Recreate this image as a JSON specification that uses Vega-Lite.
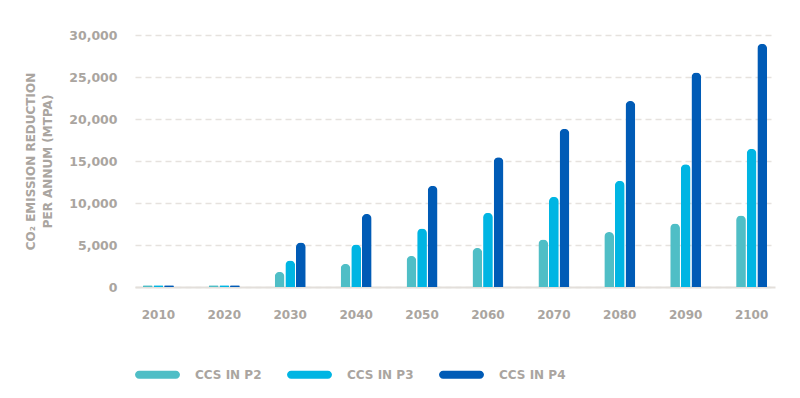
{
  "$schema": "https://vega.github.io/schema/vega-lite/v6.json",
  "autosize": {"type": "none"},
  "width": 640,
  "height": 252,
  "padding": {"left": 135, "top": 35, "right": 25, "bottom": 111},
  "background": "white",
  "data": {
    "values": [
      {"year": "2010", "scenario": "CCS IN P2", "value": 200},
      {"year": "2010", "scenario": "CCS IN P3", "value": 200},
      {"year": "2010", "scenario": "CCS IN P4", "value": 200},
      {"year": "2020", "scenario": "CCS IN P2", "value": 200},
      {"year": "2020", "scenario": "CCS IN P3", "value": 200},
      {"year": "2020", "scenario": "CCS IN P4", "value": 200},
      {"year": "2030", "scenario": "CCS IN P2", "value": 1800},
      {"year": "2030", "scenario": "CCS IN P3", "value": 3150},
      {"year": "2030", "scenario": "CCS IN P4", "value": 5300},
      {"year": "2040", "scenario": "CCS IN P2", "value": 2750},
      {"year": "2040", "scenario": "CCS IN P3", "value": 5050},
      {"year": "2040", "scenario": "CCS IN P4", "value": 8700},
      {"year": "2050", "scenario": "CCS IN P2", "value": 3700},
      {"year": "2050", "scenario": "CCS IN P3", "value": 6950},
      {"year": "2050", "scenario": "CCS IN P4", "value": 12050},
      {"year": "2060", "scenario": "CCS IN P2", "value": 4650},
      {"year": "2060", "scenario": "CCS IN P3", "value": 8850},
      {"year": "2060", "scenario": "CCS IN P4", "value": 15450},
      {"year": "2070", "scenario": "CCS IN P2", "value": 5650},
      {"year": "2070", "scenario": "CCS IN P3", "value": 10750},
      {"year": "2070", "scenario": "CCS IN P4", "value": 18850},
      {"year": "2080", "scenario": "CCS IN P2", "value": 6550},
      {"year": "2080", "scenario": "CCS IN P3", "value": 12650},
      {"year": "2080", "scenario": "CCS IN P4", "value": 22150},
      {"year": "2090", "scenario": "CCS IN P2", "value": 7550},
      {"year": "2090", "scenario": "CCS IN P3", "value": 14600},
      {"year": "2090", "scenario": "CCS IN P4", "value": 25550},
      {"year": "2100", "scenario": "CCS IN P2", "value": 8500},
      {"year": "2100", "scenario": "CCS IN P3", "value": 16450},
      {"year": "2100", "scenario": "CCS IN P4", "value": 28950}
    ]
  },
  "mark": {"type": "bar", "cornerRadiusTopLeft": 5, "cornerRadiusTopRight": 5},
  "encoding": {
    "x": {
      "field": "year",
      "type": "nominal",
      "scale": {"paddingInner": 0.53, "paddingOuter": 0.12},
      "axis": {
        "title": null,
        "labelAngle": 0,
        "ticks": false,
        "labelPadding": 22,
        "domainColor": "#e3dfdb",
        "domainWidth": 2,
        "labelFont": "DejaVu Sans",
        "labelFontWeight": "bold",
        "labelFontSize": 12,
        "labelColor": "#aaa5a0",
        "grid": false
      }
    },
    "xOffset": {"field": "scenario", "type": "nominal", "scale": {"paddingInner": 0.08}},
    "y": {
      "field": "value",
      "type": "quantitative",
      "scale": {"domain": [0, 30000], "nice": false},
      "axis": {
        "title": ["CO₂ EMISSION REDUCTION", "PER ANNUM (MTPA)"],
        "titleFont": "DejaVu Sans",
        "titleFontWeight": "bold",
        "titleFontSize": 12,
        "titleColor": "#aaa5a0",
        "titleLineHeight": 17,
        "titlePadding": 14,
        "values": [0, 5000, 10000, 15000, 20000, 25000, 30000],
        "format": ",.0f",
        "domain": false,
        "ticks": false,
        "labelPadding": 18,
        "labelFont": "DejaVu Sans",
        "labelFontWeight": "bold",
        "labelFontSize": 12.5,
        "labelColor": "#aaa5a0",
        "grid": true,
        "gridColor": "#e6e2de",
        "gridWidth": 1.5,
        "gridDash": [6, 4]
      }
    },
    "color": {
      "field": "scenario",
      "type": "nominal",
      "scale": {
        "domain": ["CCS IN P2", "CCS IN P3", "CCS IN P4"],
        "range": ["#4fbec6", "#00b5e3", "#005bb6"]
      },
      "legend": {
        "title": null,
        "orient": "none",
        "direction": "horizontal",
        "legendX": 4,
        "legendY": 321,
        "symbolType": "M-1,-0.22L1,-0.22A0.22,0.22 0 0 1 1,0.22L-1,0.22A0.22,0.22 0 0 1 -1,-0.22Z",
        "symbolSize": 1355,
        "symbolStrokeWidth": 0,
        "labelOffset": 19,
        "columnPadding": 25,
        "labelFont": "DejaVu Sans",
        "labelFontWeight": "bold",
        "labelFontSize": 12,
        "labelColor": "#aaa5a0"
      }
    }
  },
  "config": {"view": {"stroke": null}}
}
